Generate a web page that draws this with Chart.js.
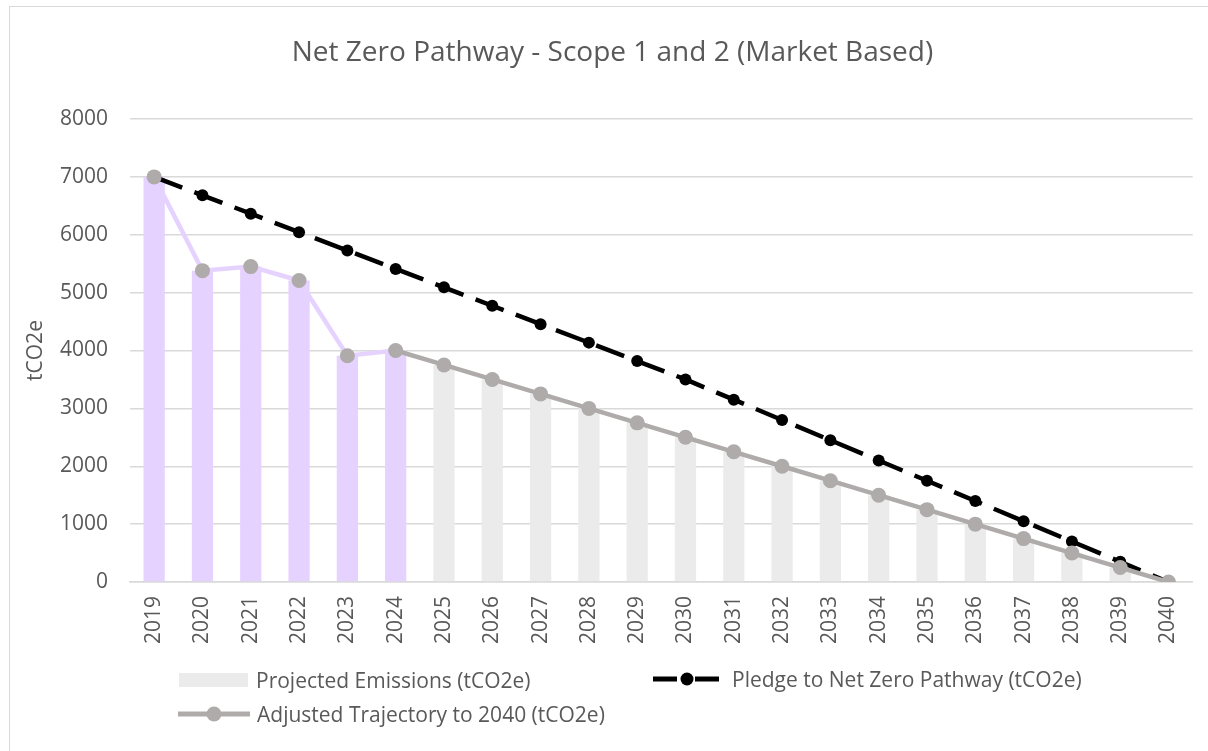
<!DOCTYPE html>
<html lang="en">
<head>
    <meta charset="UTF-8">
    <title>Net Zero Pathway - Scope 1 and 2 (Market Based)</title>
    <script src="https://cdn.jsdelivr.net/npm/chart.js"></script>
    <style>
        body {
            margin: 0;
            background: #ffffff;
            font-family: "Open Sans", sans-serif;
            color: #595959;
        }

        .chart-box {
            position: relative;
            width: 1208px;
            height: 751px;
        }

        /* Excel style chart frame (only top and left visible) */
        .frame {
            position: absolute;
            left: 9px;
            top: 6px;
            right: 0;
            bottom: 0;
            border-top: 1px solid #d9d9d9;
            border-left: 1px solid #d9d9d9;
            pointer-events: none;
        }

        .chart-title {
            position: absolute;
            left: 0;
            width: 1225px;
            top: 31px;
            text-align: center;
            font-size: 28px;
            line-height: 38px;
        }

        .legend-item {
            position: absolute;
            display: flex;
            align-items: center;
            font-size: 21px;
            line-height: 26px;
            white-space: nowrap;
        }

        .legend-item svg {
            margin-right: 7px;
        }

        canvas {
            position: absolute;
            left: 0;
            top: 0;
        }
    </style>
</head>
<body>
    <div class="chart-box">
        <canvas id="plot" width="1208" height="751"></canvas>
        <div class="frame"></div>
        <div class="chart-title">Net Zero Pathway - Scope 1 and 2 (Market Based)</div>

        <!-- Legend -->
        <div class="legend-item" style="left:179px; top:667px;">
            <svg width="70" height="16"><rect x="0" y="1" width="69" height="14" fill="#ebebeb"></rect></svg>
            <span id="legend-projected"></span>
        </div>
        <div class="legend-item" style="left:653px; top:666px;">
            <svg width="72" height="16">
                <line x1="0" y1="8" x2="24" y2="8" stroke="#000" stroke-width="5"></line>
                <line x1="42" y1="8" x2="66" y2="8" stroke="#000" stroke-width="5"></line>
                <circle cx="34" cy="8" r="6.5" fill="#000"></circle>
            </svg>
            <span id="legend-pledge"></span>
        </div>
        <div class="legend-item" style="left:178px; top:701px;">
            <svg width="72" height="18">
                <line x1="0" y1="9" x2="72" y2="9" stroke="#afabab" stroke-width="5"></line>
                <circle cx="36" cy="9" r="7.5" fill="#afabab"></circle>
            </svg>
            <span id="legend-adjusted"></span>
        </div>
    </div>

    <script>
        const years = ['2019', '2020', '2021', '2022', '2023', '2024', '2025', '2026', '2027', '2028', '2029',
            '2030', '2031', '2032', '2033', '2034', '2035', '2036', '2037', '2038', '2039', '2040'];

        // actual reported years (purple) run up to this one, then projections
        const lastActualYear = '2024';

        const projectedEmissions = [7000, 5380, 5450, 5210, 3910, 4000, 3750, 3500, 3250, 3000, 2750,
            2500, 2250, 2000, 1750, 1500, 1250, 1000, 750, 500, 250, 0];

        const pledgePathway = [7000, 6682, 6364, 6045, 5727, 5409, 5091, 4773, 4455, 4136, 3818,
            3500, 3150, 2800, 2450, 2100, 1750, 1400, 1050, 700, 350, 0];

        const adjustedTrajectory = [7000, 5380, 5450, 5210, 3910, 4000, 3750, 3500, 3250, 3000, 2750,
            2500, 2250, 2000, 1750, 1500, 1250, 1000, 750, 500, 250, 0];

        const yTicks = [0, 1000, 2000, 3000, 4000, 5000, 6000, 7000, 8000];

        const seriesNames = ['Projected Emissions (tCO2e)', 'Pledge to Net Zero Pathway (tCO2e)', 'Adjusted Trajectory to 2040 (tCO2e)'];

        const purple = '#e6d2ff';
        const lightGrey = '#ebebeb';
        const midGrey = '#afabab';
        const textColour = '#595959';
        const gridColour = '#d9d9d9';

        const actualIdx = years.indexOf(lastActualYear);

        document.getElementById('legend-projected').textContent = seriesNames[0];
        document.getElementById('legend-pledge').textContent = seriesNames[1];
        document.getElementById('legend-adjusted').textContent = seriesNames[2];

        const ctx = document.getElementById('plot').getContext('2d');
        new Chart(ctx, {
            type: 'bar',
            data: {
                labels: years,
                datasets: [
                    {
                        label: seriesNames[0],
                        data: projectedEmissions,
                        backgroundColor: years.map((y, i) => i <= actualIdx ? purple : lightGrey),
                        categoryPercentage: 1,
                        barPercentage: 0.44,
                        order: 3
                    },
                    {
                        type: 'line',
                        label: seriesNames[1],
                        data: pledgePathway,
                        borderColor: '#000000',
                        backgroundColor: '#000000',
                        borderWidth: 4.5,
                        borderDash: [30, 13],
                        pointRadius: 6,
                        pointBorderWidth: 0,
                        tension: 0,
                        order: 2
                    },
                    {
                        type: 'line',
                        label: seriesNames[2],
                        data: adjustedTrajectory,
                        borderColor: midGrey,
                        backgroundColor: midGrey,
                        borderWidth: 4.5,
                        pointRadius: 7.5,
                        pointBorderWidth: 0,
                        tension: 0,
                        segment: {
                            borderColor: c => c.p1DataIndex <= actualIdx ? purple : midGrey
                        },
                        order: 1
                    }
                ]
            },
            options: {
                responsive: false,
                animation: false,
                layout: {
                    padding: { left: 10, right: 13, top: 119, bottom: 0 }
                },
                plugins: {
                    legend: { display: false },
                    tooltip: { enabled: false },
                    title: { display: false }
                },
                scales: {
                    x: {
                        grid: { display: false, drawTicks: false },
                        border: { color: gridColour, width: 1.5 },
                        ticks: {
                            color: textColour,
                            font: { family: 'Open Sans', size: 21 },
                            minRotation: 90,
                            maxRotation: 90,
                            padding: 14,
                            autoSkip: false
                        },
                        afterFit: scale => { scale.height = 169; }
                    },
                    y: {
                        min: 0,
                        max: 8000,
                        afterBuildTicks: scale => { scale.ticks = yTicks.map(v => ({ value: v })); },
                        grid: { color: gridColour, lineWidth: 1.5, drawTicks: false },
                        border: { display: false },
                        ticks: {
                            color: textColour,
                            font: { family: 'Open Sans', size: 21 },
                            padding: 22,
                            callback: v => String(v)
                        },
                        title: {
                            display: true,
                            text: 'tCO2e',
                            color: textColour,
                            font: { family: 'Open Sans', size: 21 },
                            padding: { top: 13, bottom: 0 }
                        },
                        afterFit: scale => { scale.width = 120; }
                    }
                }
            }
        });
    </script>
</body>
</html>
